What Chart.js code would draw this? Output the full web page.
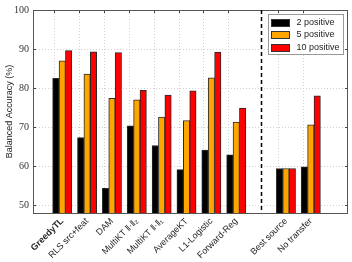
<!DOCTYPE html>
<html>
<head>
<meta charset="utf-8">
<script src="https://cdn.jsdelivr.net/npm/chart.js@4.4.0/dist/chart.umd.min.js"></script>
<style>
    html, body { margin: 0; padding: 0; background: #fff; }
    #chart { display: block; }
</style>
</head>
<body>
<canvas id="chart" width="352" height="262"></canvas>
<script>
// ==================== 数据 ====================
// 空字符串 = 虚线分隔位置
const methods = ['GreedyTL', 'RLS src+feat', 'DAM', 'MultiKT ‖·‖₂', 'MultiKT ‖·‖₁', 'AverageKT', 'L1-Logistic', 'Forward-Reg', '', 'Best source', 'No transfer'];
const pos2  = [82.5, 67.3, 54.3, 70.3, 65.3, 59.1, 64.1, 62.9, null, 59.4, 59.8];
const pos5  = [87.0, 83.6, 77.4, 77.0, 72.6, 71.7, 82.6, 71.3, null, 59.4, 70.6];
const pos10 = [89.6, 89.3, 89.1, 79.4, 78.2, 79.3, 89.2, 74.9, null, 59.4, 78.0];
const seriesNames = ['2 positive', '5 positive', '10 positive'];
const seriesColors = ['#000000', '#ffa500', '#ff0000'];
const yTicks = [50, 60, 70, 80, 90, 100];
const yTitle = 'Balanced Accuracy (%)';

const SANS = "'Liberation Sans', Arial, sans-serif";
const SERIF = "'Liberation Serif', 'DejaVu Serif', serif";
const sepIndex = methods.indexOf('');

// ==================== 工具函数 ====================
function toPoints(values) {
    return values.map((v, i) => ({ x: i, y: v })).filter(p => p.y !== null);
}

function line(ctx, x1, y1, x2, y2) {
    ctx.beginPath();
    ctx.moveTo(x1, y1);
    ctx.lineTo(x2, y2);
    ctx.stroke();
}

// ==================== 网格 / 边框 / 图例 插件 ====================
const decorPlugin = {
    id: 'decor',
    beforeDatasetsDraw(chart) {
        const { ctx, chartArea: a, scales: { x, y } } = chart;
        ctx.save();
        ctx.strokeStyle = '#d0d0d0';
        ctx.lineWidth = 1;
        ctx.setLineDash([1, 2]);
        // 横向网格
        yTicks.slice(0, -1).forEach(v => {
            const py = Math.round(y.getPixelForValue(v)) + 0.5;
            line(ctx, a.left, py, a.right, py);
        });
        // 纵向网格（略偏左于每组中心）
        methods.forEach((m, i) => {
            if (!m) return;
            const px = Math.round(x.getPixelForValue(i - 0.32)) + 0.5;
            line(ctx, px, a.top, px, a.bottom);
        });
        ctx.restore();
    },
    afterDatasetsDraw(chart) {
        const { ctx, chartArea: a, scales: { x, y } } = chart;
        ctx.save();

        // 内向刻度
        ctx.strokeStyle = '#444';
        ctx.lineWidth = 1;
        yTicks.forEach(v => {
            const py = Math.round(y.getPixelForValue(v)) + 0.5;
            line(ctx, a.left, py, a.left + 3, py);
            line(ctx, a.right - 3, py, a.right, py);
        });
        methods.forEach((m, i) => {
            if (!m) return;
            const px = Math.round(x.getPixelForValue(i - 0.32)) + 0.5;
            line(ctx, px, a.top, px, a.top + 3);
        });

        // 外框
        ctx.strokeStyle = '#555';
        ctx.strokeRect(Math.round(a.left) + 0.5, Math.round(a.top) + 0.5,
            Math.round(a.right - a.left) - 1, Math.round(a.bottom - a.top));

        // 虚线分隔
        const sx = Math.round(x.getPixelForValue(sepIndex)) + 0.5;
        ctx.strokeStyle = '#000';
        ctx.lineWidth = 1.5;
        ctx.setLineDash([4, 3]);
        line(ctx, sx, a.top, sx, a.bottom);
        ctx.setLineDash([]);

        // 图例
        const bw = 75, bh = 40;
        const bx = Math.round(a.right - 5 - bw) + 0.5;
        const by = Math.round(a.top + 4) + 0.5;
        ctx.fillStyle = '#fff';
        ctx.fillRect(bx, by, bw, bh);
        ctx.strokeStyle = '#999';
        ctx.lineWidth = 1;
        ctx.strokeRect(bx, by, bw, bh);
        ctx.font = '9px ' + SANS;
        ctx.textBaseline = 'middle';
        seriesNames.forEach((name, i) => {
            const cy = by + 8 + i * 12.3;
            ctx.fillStyle = seriesColors[i];
            ctx.fillRect(bx + 3, Math.round(cy - 3.5), 18, 7);
            ctx.strokeStyle = '#333';
            ctx.strokeRect(bx + 3, Math.round(cy - 3.5) + 0.5, 18, 7);
            ctx.fillStyle = '#222';
            ctx.fillText(name, bx + 28, cy);
        });

        ctx.restore();
    }
};

// ==================== 绘制图表 ====================
const chart = new Chart(document.getElementById('chart'), {
    type: 'bar',
    data: {
        datasets: seriesNames.map((name, i) => ({
            label: name,
            data: toPoints([pos2, pos5, pos10][i]),
            backgroundColor: seriesColors[i],
            borderColor: '#2a2a2a',
            borderWidth: 1,
            barThickness: 6.4
        }))
    },
    options: {
        responsive: false,
        devicePixelRatio: 1,
        animation: false,
        layout: { padding: { top: 8, right: 4, left: 0, bottom: 0 } },
        plugins: {
            legend: { display: false },
            tooltip: { enabled: false }
        },
        scales: {
            x: {
                type: 'linear',
                min: -0.6,
                max: 10.92,
                grid: { display: false, drawTicks: false },
                border: { display: false },
                afterBuildTicks: scale => {
                    scale.ticks = methods.map((_, i) => ({ value: i }));
                },
                afterFit: scale => { scale.height = 49; },
                ticks: {
                    autoSkip: false,
                    maxRotation: 45,
                    minRotation: 45,
                    padding: 3,
                    color: '#222',
                    font: ctx => ({ family: SANS, size: 9, weight: ctx.index === 0 ? 'bold' : 'normal' }),
                    callback: value => methods[value] || ''
                }
            },
            y: {
                min: 48,
                max: 100,
                grid: { display: false, drawTicks: false },
                border: { display: false },
                afterBuildTicks: scale => {
                    scale.ticks = yTicks.map(v => ({ value: v }));
                },
                afterFit: scale => { scale.width = 33; },
                ticks: {
                    padding: 4,
                    color: '#333',
                    font: { family: SERIF, size: 10 }
                },
                title: {
                    display: true,
                    text: yTitle,
                    color: '#222',
                    font: { family: SANS, size: 9 },
                    padding: { top: 4, bottom: 0 }
                }
            }
        }
    },
    plugins: [decorPlugin]
});
</script>
</body>
</html>
